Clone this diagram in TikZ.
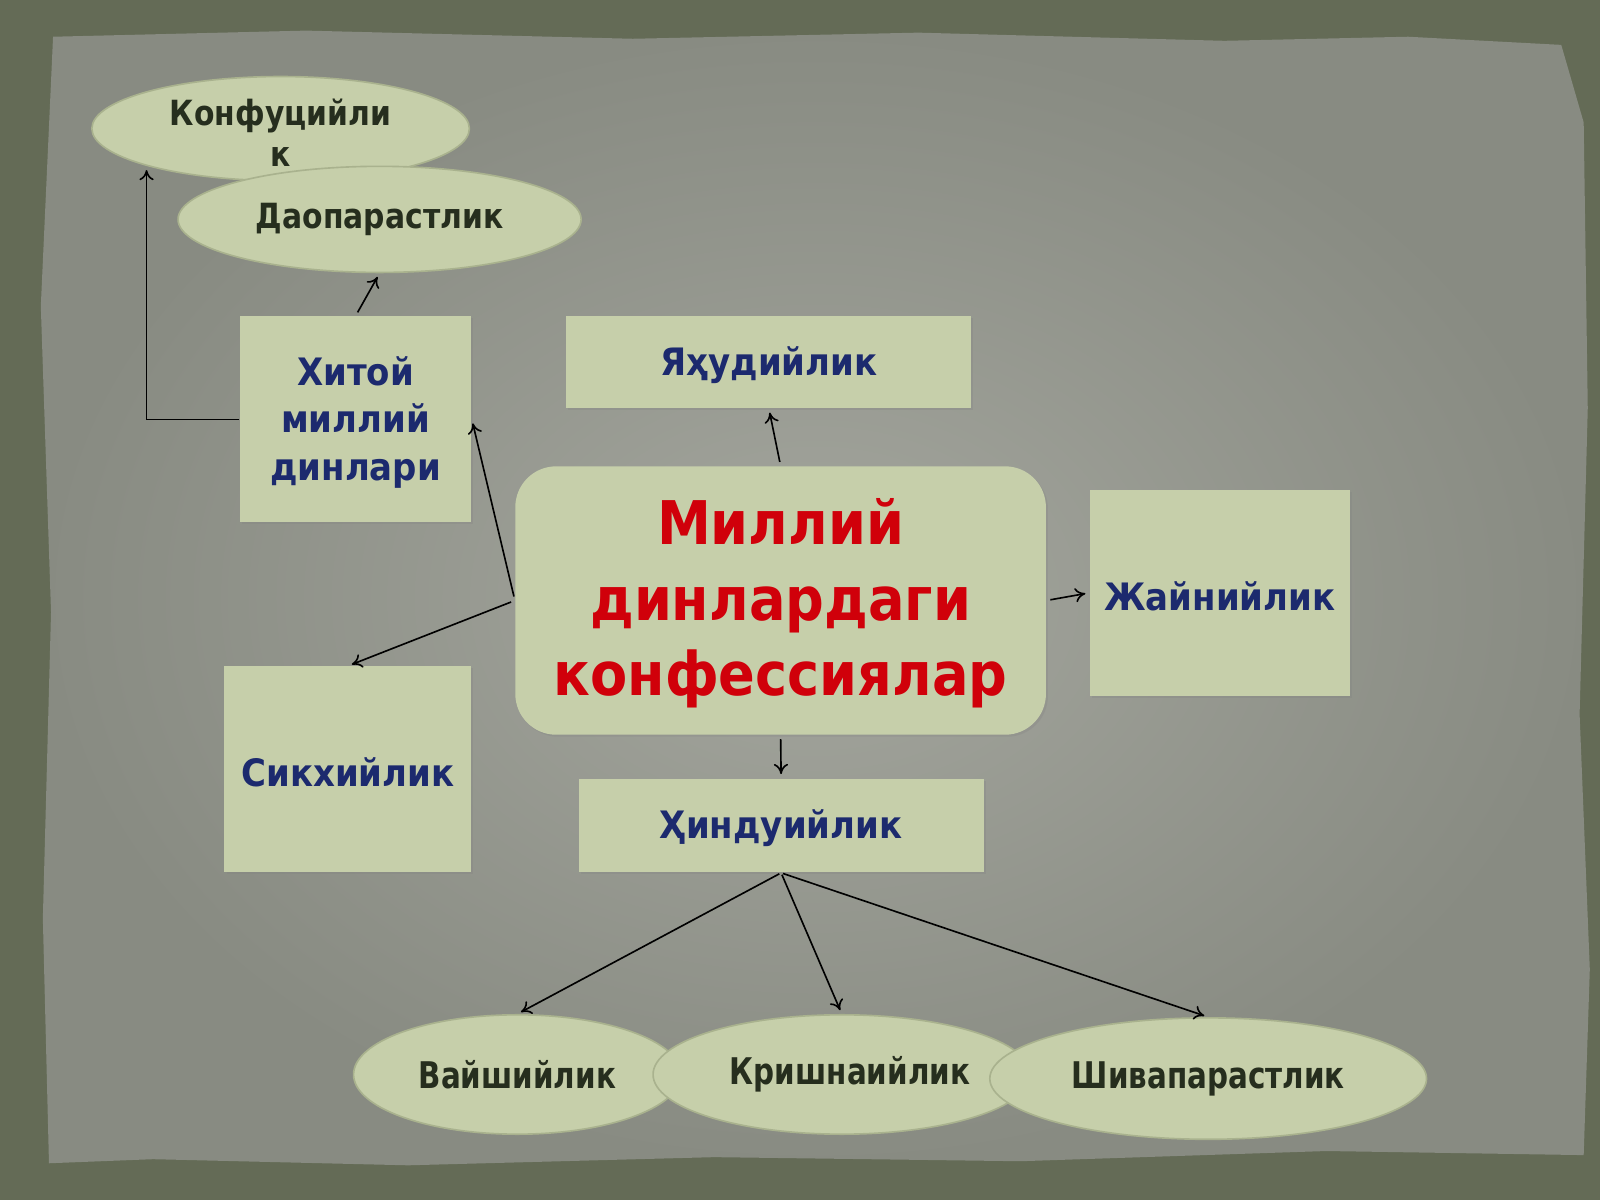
\documentclass[tikz,border=0pt]{standalone}
\usepackage{fontspec}
\setmainfont[FakeStretch=0.9]{DejaVu Sans}
\newfontfamily\ovalfont[FakeStretch=0.86]{DejaVu Sans}
\newfontfamily\narrowfont[FakeStretch=0.80]{DejaVu Sans}
\usetikzlibrary{arrows.meta}
\usetikzlibrary{positioning}
\usetikzlibrary{shapes.geometric}
\usetikzlibrary{shadows}

\definecolor{frameolive}{HTML}{646B56}
\definecolor{paperin}{HTML}{A4A69E}
\definecolor{paperout}{HTML}{888B82}
\definecolor{palegreen}{HTML}{C6CFAA}
\definecolor{ovalrim}{HTML}{A9B28E}
\definecolor{titlered}{HTML}{D0000A}
\definecolor{namblue}{HTML}{1C2A6E}
\definecolor{darkink}{HTML}{262E1E}

\tikzset{
    boxnode/.style={
        rectangle, fill=palegreen, inner sep=0pt,
        drop shadow={opacity=0.25, shadow xshift=1pt, shadow yshift=-1pt},
    },
    ovalnode/.style={
        ellipse, fill=palegreen, draw=ovalrim, line width=0.8pt, inner sep=0pt,
    },
    bluetext/.style={
        text=namblue, font=\bfseries\fontsize{18.5}{23.5}\selectfont, align=center,
        yshift=-1.5pt,
    },
    darktext/.style={
        text=darkink, font=\ovalfont\bfseries\fontsize{17}{20}\selectfont, align=center,
    },
    bottomtext/.style={
        text=darkink, font=\narrowfont\bfseries\fontsize{18}{22}\selectfont,
    },
    link/.style={
        draw=black, line width=0.8pt, -{To[length=5pt, width=7pt]},
        shorten <=2pt, shorten >=2pt,
    },
}

\begin{document}
\begin{tikzpicture}[x=0.5pt, y=-0.5pt]
    % background and torn paper
    \fill[frameolive] (0,0) rectangle (1568,1176);
    \shade[inner color=paperin, outer color=paperout]
        (52,36) -- (300,30) -- (620,38) -- (900,32) -- (1200,40) -- (1380,36)
        -- (1530,44) -- (1552,120) -- (1556,400) -- (1548,700) -- (1558,950)
        -- (1552,1132) -- (1300,1128) -- (1000,1138) -- (700,1134)
        -- (400,1142) -- (150,1136) -- (48,1140) -- (42,900) -- (50,600)
        -- (40,300) -- cycle;
    \useasboundingbox (0,0) rectangle (1568,1176);

    % boxes
    \node (chinese) at (348.5,411) [boxnode,
        minimum width=113.5pt, minimum height=101pt] {};
    \node at (chinese.center) [bluetext] {Хитой\\миллий\\динлари};

    \node (jewish) at (753.5,355) [boxnode,
        minimum width=198.5pt, minimum height=45pt] {};
    \node at (jewish.center) [bluetext] {Яҳудийлик};

    \node (jain) at (1195.5,581) [boxnode,
        minimum width=127.5pt, minimum height=101pt] {};
    \node at (jain.center) [bluetext] {Жайнийлик};

    \node (sikh) at (341,754) [boxnode,
        minimum width=121pt, minimum height=101pt] {};
    \node at (sikh.center) [bluetext] {Сикхийлик};

    \node (hindu) at (765.5,809) [boxnode,
        minimum width=198.5pt, minimum height=46pt] {};
    \node at (hindu.center) [bluetext] {Ҳиндуийлик};

    \node (main) at (765,588.5) [boxnode, rounded corners=20pt,
        minimum width=260pt, minimum height=131.5pt] {};
    \node at (main.center) [
        text=titlered, align=center, yshift=-1.5pt,
        font=\bfseries\fontsize{29.5}{37}\selectfont,
    ] {Миллий\\динлардаги\\конфессиялар};

    % ovals
    \node (confucian) at (275,126) [ovalnode,
        minimum width=185pt, minimum height=51pt,
        label={[darktext, yshift=-2pt]center:Конфуцийли\\к}] {};
    \node (taoist) at (372,215) [ovalnode,
        minimum width=197.5pt, minimum height=52pt,
        label={[darktext]center:Даопарастлик}] {};

    \node (vaishnava) at (507,1053) [ovalnode,
        minimum width=160.5pt, minimum height=58.5pt,
        label={[bottomtext]center:Вайшийлик}] {};
    \node (krishna) at (825,1053) [ovalnode,
        minimum width=185pt, minimum height=58.5pt,
        label={[bottomtext, xshift=4pt]center:Кришнаийлик}] {};
    \node (shaiva) at (1184,1057) [ovalnode,
        minimum width=214pt, minimum height=59.5pt,
        label={[bottomtext]center:Шивапарастлик}] {};

    % connectors
    \draw[link, shorten <=0pt] (chinese.west) -| (confucian.south west);
    \draw[link] (chinese.north) -- (taoist.south);
    \draw[link] (main.west) -- (chinese.east);
    \draw[link] (main.west) -- (sikh.north);
    \draw[link] (main.north) -- (jewish.south);
    \draw[link] (main.east) -- (jain.west);
    \draw[link] (main.south) -- (hindu.north);
    \draw[link, shorten <=1pt] (hindu.south) -- (vaishnava.north);
    \draw[link, shorten <=1pt] (hindu.south) -- (krishna.north);
    \draw[link, shorten <=1pt] (hindu.south) -- (shaiva.north);
\end{tikzpicture}
\end{document}
